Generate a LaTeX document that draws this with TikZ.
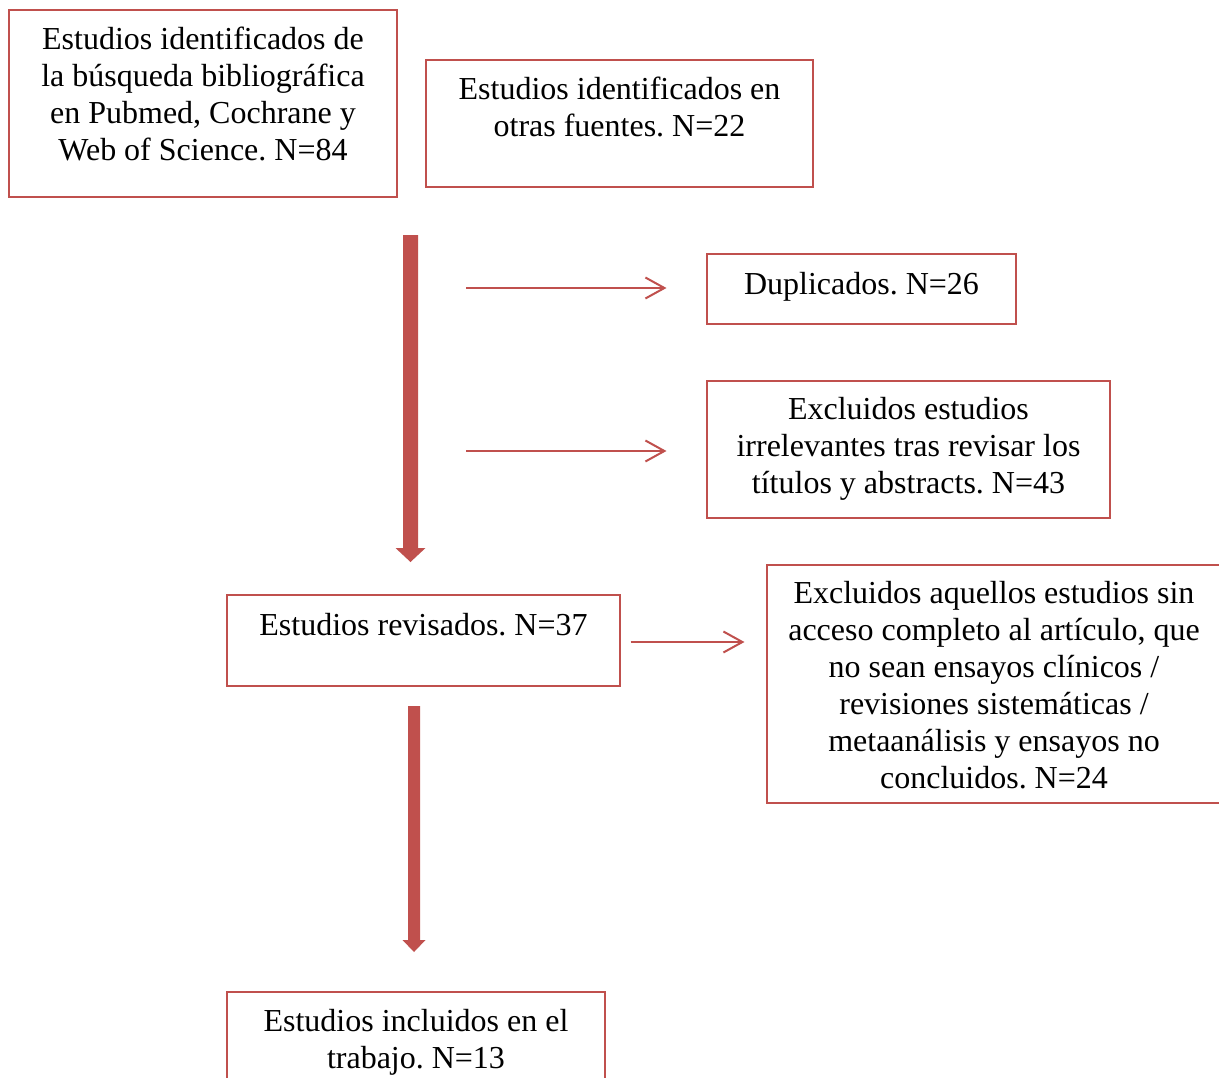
\documentclass[tikz,border=0pt]{standalone}
\usepackage{fontspec}
\setmainfont{Liberation Serif}
\usetikzlibrary{arrows.meta,calc,fit}
\definecolor{accred}{HTML}{C0504D}
\frenchspacing
\begin{document}
\begin{tikzpicture}[x=0.75pt,y=-0.75pt,
  box/.style={draw=accred, line width=0.8pt, inner sep=0pt},
  txt/.style={anchor=north, inner sep=0pt, align=center, font=\frenchspacing\fontsize{24pt}{27.75pt}\selectfont},
  thinarrow/.style={draw=accred, line width=1.5pt, -{Straight Barb[length=14.25pt,width=15.75pt]}},
  fatarrow/.style={fill=accred, draw=none}]
\useasboundingbox (0,0) rectangle (1219,1077);
\fill[white] (0,0) rectangle (1219,1077);
\clip (0,0) rectangle (1219,1077);

% boxes
\node[box, fit={(9,10) (397,197)}] (A) {};
\node[box, fit={(426,60) (813,187)}] (B) {};
\node[box, fit={(707,254) (1016,324)}] (D) {};
\node[box, fit={(707,381) (1110,518)}] (E1) {};
\node[box, fit={(227,595) (620,686)}] (R) {};
\node[box, fit={(767,565) (1221,803)}] (E2) {};
\node[box, fit={(227,992) (605,1110)}] (F) {};

% texts
\node[txt] (At) at ($(A.north)+(0,14)$) {\strut Estudios identificados de\\la búsqueda bibliográfica\\en Pubmed, Cochrane y\\Web of Science. N=84};
\node[txt] (Bt) at ($(B.north)+(0,14)$) {\strut Estudios identificados en\\otras fuentes. N=22};
\node[txt] (Dt) at ($(D.north)+(0,15)$) {\strut Duplicados. N=26};
\node[txt] (E1t) at ($(E1.north)+(0,13)$) {\strut Excluidos estudios\\irrelevantes tras revisar los\\títulos y abstracts. N=43};
\node[txt] (Rt) at ($(R.north)+(0,15)$) {\strut Estudios revisados. N=37};
\node[txt] (E2t) at ($(E2.north)+(0,13)$) {\strut Excluidos aquellos estudios sin\\acceso completo al artículo, que\\no sean ensayos clínicos /\\revisiones sistemáticas /\\metaanálisis y ensayos no\\concluidos. N=24};
\node[txt] (Ft) at ($(F.north)+(0,14)$) {\strut Estudios incluidos en el\\trabajo. N=13};

% fat arrows
\coordinate (f1s) at (410.5,235);
\coordinate (f1e) at (410.5,562);
\fill[fatarrow] ($(f1s)+(-7.5,0)$) -- ($(f1s)+(7.5,0)$) -- ($(f1e)+(7.5,-14)$) -- ($(f1e)+(15,-14)$) -- (f1e) -- ($(f1e)+(-15,-14)$) -- ($(f1e)+(-7.5,-14)$) -- cycle;
\coordinate (f2s) at (414,706);
\coordinate (f2e) at (414,952);
\fill[fatarrow] ($(f2s)+(-6,0)$) -- ($(f2s)+(6,0)$) -- ($(f2e)+(6,-12)$) -- ($(f2e)+(11.5,-12)$) -- (f2e) -- ($(f2e)+(-11.5,-12)$) -- ($(f2e)+(-6,-12)$) -- cycle;

% thin arrows
\coordinate (t1s) at (466,288);
\coordinate (t2s) at (466,451);
\draw[thinarrow] (t1s) -- (t1s -| {$(D.west)+(-40,0)$});
\draw[thinarrow] (t2s) -- (t2s -| {$(E1.west)+(-40,0)$});
\draw[thinarrow] ($(R.east)+(10,1.5)$) -- ($(R.east -| E2.west)+(-22,1.5)$);
\end{tikzpicture}
\end{document}
